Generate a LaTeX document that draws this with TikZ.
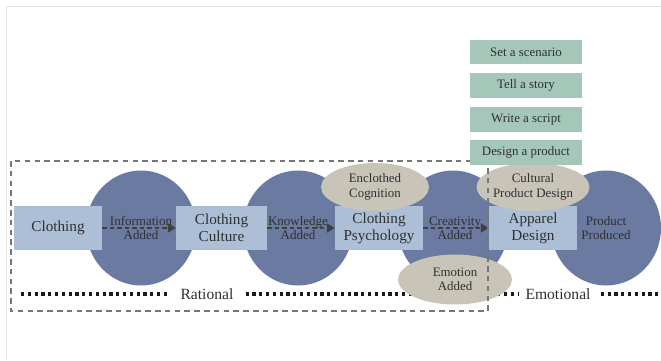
\documentclass[tikz,border=0pt]{standalone}
\usepackage{fontspec}
\setmainfont{Liberation Serif}
\usetikzlibrary{shapes.geometric,arrows.meta}

\definecolor{circfill}{RGB}{107,122,161}
\definecolor{boxfill}{RGB}{172,191,214}
\definecolor{ovalfill}{RGB}{201,196,184}
\definecolor{stepfill}{RGB}{164,199,186}
\definecolor{inktext}{RGB}{48,48,48}
\definecolor{framegray}{RGB}{118,118,118}
\definecolor{edgegray}{RGB}{228,228,228}

\tikzset{
  disc/.style={ellipse, fill=circfill, minimum width=110pt, minimum height=115pt, inner sep=0pt},
  stagebox/.style={rectangle, fill=boxfill, minimum height=44pt, inner sep=0pt, align=center,
    text=inktext, font=\fontsize{15.2}{17}\selectfont},
  oval/.style={ellipse, fill=ovalfill, inner sep=0pt, align=center, text=inktext,
    font=\fontsize{12.9}{14.5}\selectfont},
  steplabel/.style={rectangle, fill=stepfill, minimum width=112pt, minimum height=24.5pt,
    inner sep=0pt, text=inktext, font=\fontsize{12.9}{14}\selectfont},
  addlabel/.style={align=center, inner sep=0pt, text=inktext, font=\fontsize{13}{14}\selectfont},
  flow/.style={draw=black!75, line width=2pt, dash pattern=on 4.5pt off 3pt,
    -{Triangle[length=8pt,width=9pt]}},
  scale line/.style={line width=3.2pt, dash pattern=on 3.2pt off 3.6pt, black!90},
  scalelabel/.style={inner sep=0pt, text=inktext, font=\fontsize{15.6}{17}\selectfont},
}

\begin{document}
\begin{tikzpicture}[x=1pt,y=-1pt]
\useasboundingbox (0,0) rectangle (661,360);

% faint page edge
\draw[edgegray, line width=0.8pt] (6,360) -- (6,6) -- (661,6);

% background discs
\node[disc] (c1) at (141,228) {};
\node[disc] (c2) at (298,228) {};
\node[disc] (c3) at (453,228) {};
\node[disc] (c4) at (606,228) {};

% stage boxes
\node[stagebox, minimum width=88pt] (clothing) at (58,228) {Clothing};
\node[stagebox, minimum width=91pt] (culture) at (221.5,228) {Clothing\\Culture};
\node[stagebox, minimum width=88pt] (psych) at (379,228) {Clothing\\Psychology};
\node[stagebox, minimum width=88pt] (apparel) at (533,228) {Apparel\\Design};

% flow arrows
\draw[flow] (clothing.east) -- (culture.west);
\draw[flow] (culture.east) -- (psych.west);
\draw[flow] (psych.east) -- (apparel.west);

% labels on the discs
\node[addlabel] (info) at (141,228) {Information\\Added};
\node[addlabel] (know) at (298,228) {Knowledge\\Added};
\node[addlabel] (creat) at (455,228) {Creativity\\Added};
\node[addlabel] (prod) at (606,228.5) {Product\\Produced};

% rational / emotional scale
\node[scalelabel] (rational) at (207,294) {Rational};
\node[scalelabel] (emotional) at (558,294) {Emotional};
\coordinate (sL) at (21,294);
\coordinate (sR) at (661,294);
\draw[scale line] (sL) -- ([xshift=-13pt]rational.west);
\draw[scale line] ([xshift=12pt]rational.east) -- ([xshift=-7pt]emotional.west);
\draw[scale line] ([xshift=10pt]emotional.east) -- (sR);

% ovals
\node[oval, minimum width=108pt, minimum height=48pt] (encl) at (375,187) {Enclothed\\Cognition};
\node[oval, minimum width=110pt, minimum height=48pt] (cpd) at (533,187) {Cultural\\Product Design};
\node[oval, minimum width=114pt, minimum height=50pt] (emo) at (455,279.5) {Emotion\\Added};

% rational region frame
\draw[framegray, line width=2.6pt, dash pattern=on 5.5pt off 4.3pt] (11,161) rectangle (488,311);

% design steps
\node[steplabel] (s1) at (526,52) {Set a scenario};
\node[steplabel] (s2) at (526,85.5) {Tell a story};
\node[steplabel] (s3) at (526,119.5) {Write a script};
\node[steplabel] (s4) at (526,152.5) {Design a product};
\end{tikzpicture}
\end{document}
